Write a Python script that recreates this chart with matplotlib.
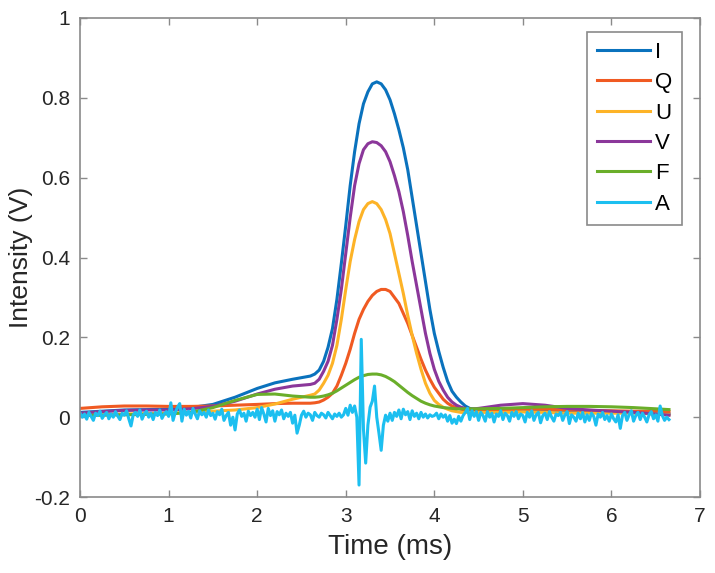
import numpy as np
import matplotlib
matplotlib.use("Agg")
import matplotlib.pyplot as plt

# time base for the smooth Stokes curves (ms)
t = [0, 0.25, 0.5, 0.75, 1.0, 1.25, 1.5, 1.75, 2.0, 2.2, 2.4,
     2.6, 2.65, 2.7, 2.75, 2.8, 2.85, 2.9, 2.95, 3.0, 3.05,
     3.1, 3.15, 3.2, 3.25, 3.3, 3.35, 3.4, 3.45, 3.5, 3.55,
     3.6, 3.65, 3.7, 3.75, 3.8, 3.85, 3.9, 3.95, 4.0, 4.05,
     4.1, 4.15, 4.2, 4.25, 4.3, 4.35, 4.4,
     4.5, 4.75, 5.0, 5.25, 5.5, 5.75, 6.0, 6.25, 6.5, 6.65]

I = [0.012, 0.015, 0.018, 0.019, 0.02, 0.024, 0.032, 0.05, 0.072, 0.086, 0.095,
     0.103, 0.108, 0.118, 0.14, 0.175, 0.222, 0.295, 0.385, 0.48, 0.58,
     0.665, 0.735, 0.785, 0.815, 0.835, 0.84, 0.835, 0.82, 0.795, 0.76,
     0.72, 0.675, 0.62, 0.55, 0.48, 0.41, 0.34, 0.27, 0.21, 0.165,
     0.125, 0.09, 0.065, 0.05, 0.038, 0.028, 0.022,
     0.018, 0.018, 0.02, 0.018, 0.015, 0.015, 0.013, 0.012, 0.01, 0.008]

Q = [0.022, 0.026, 0.028, 0.028, 0.027, 0.027, 0.028, 0.03, 0.032, 0.034, 0.035,
     0.035, 0.036, 0.038, 0.043, 0.05, 0.06, 0.078, 0.105, 0.135, 0.17,
     0.21, 0.245, 0.27, 0.29, 0.305, 0.315, 0.32, 0.32, 0.315, 0.3,
     0.285, 0.26, 0.235, 0.205, 0.175, 0.145, 0.118, 0.095, 0.075, 0.06,
     0.045, 0.035, 0.028, 0.024, 0.02, 0.018, 0.017,
     0.017, 0.018, 0.02, 0.02, 0.018, 0.017, 0.016, 0.015, 0.015, 0.014]

U = [0.005, 0.006, 0.008, 0.009, 0.01, 0.012, 0.015, 0.018, 0.024, 0.033, 0.045,
     0.055, 0.058, 0.068, 0.085, 0.105, 0.135, 0.18, 0.245, 0.32, 0.39,
     0.445, 0.49, 0.52, 0.535, 0.54, 0.535, 0.52, 0.495, 0.46, 0.41,
     0.36, 0.31, 0.255, 0.205, 0.16, 0.12, 0.085, 0.06, 0.042, 0.032,
     0.025, 0.02, 0.016, 0.014, 0.012, 0.012, 0.012,
     0.012, 0.012, 0.013, 0.012, 0.01, 0.01, 0.01, 0.01, 0.008, 0.006]

V = [0.01, 0.014, 0.017, 0.018, 0.018, 0.021, 0.027, 0.04, 0.058, 0.07, 0.078,
     0.082, 0.085, 0.095, 0.115, 0.14, 0.18, 0.245, 0.32, 0.41, 0.5,
     0.58, 0.635, 0.67, 0.685, 0.69, 0.688, 0.68, 0.665, 0.64, 0.605,
     0.565, 0.515, 0.455, 0.39, 0.33, 0.27, 0.21, 0.16, 0.12, 0.09,
     0.068, 0.05, 0.038, 0.03, 0.025, 0.022, 0.02,
     0.022, 0.03, 0.034, 0.03, 0.022, 0.018, 0.015, 0.012, 0.008, 0.005]

F = [0.004, 0.005, 0.006, 0.007, 0.008, 0.012, 0.024, 0.042, 0.057, 0.058, 0.053,
     0.05, 0.05, 0.051, 0.053, 0.056, 0.06, 0.066, 0.073, 0.08, 0.087,
     0.094, 0.1, 0.104, 0.107, 0.108, 0.108, 0.106, 0.102, 0.096, 0.089,
     0.08, 0.071, 0.062, 0.054, 0.047, 0.04, 0.035, 0.031, 0.028, 0.026,
     0.024, 0.023, 0.022, 0.021, 0.021, 0.021, 0.021,
     0.021, 0.022, 0.024, 0.026, 0.027, 0.027, 0.026, 0.024, 0.021, 0.019]

# A is sampled every 0.025 ms from 0 to 6.65 ms
A = [0.01, 0.0, 0.008, -0.005, 0.012, 0.002, -0.008, 0.01, 0.004, 0.015,
     -0.003, 0.006, 0.012, -0.004, 0.008, 0.0, 0.014, 0.003, -0.006, 0.01,
     0.005, 0.016, -0.004, -0.022, 0.006, 0.012, 0.002, 0.018, -0.005, 0.008,
     0.015, 0.0, 0.01, -0.006, 0.012, 0.004, 0.018, -0.003, 0.008, 0.014,
     0.002, 0.036, -0.008, 0.012, 0.025, 0.034, -0.01, 0.02, 0.005, 0.015,
     -0.002, 0.022, 0.008, -0.004, 0.016, 0.006, 0.012, 0.0, 0.018, 0.004,
     0.01, -0.005, 0.014, 0.006, 0.02, -0.008, 0.004, 0.012, -0.02, 0.0,
     -0.032, 0.008, 0.018, 0.002, 0.01, -0.01, 0.015, 0.004, 0.012, 0.0,
     0.02, -0.006, 0.024, 0.008, -0.012, 0.022, 0.004, 0.016, -0.01, 0.014,
     0.006, 0.018, -0.004, 0.01, 0.002, 0.012, -0.015, 0.005, -0.04, -0.02,
     0.005, 0.015, 0.0, 0.01, 0.006, -0.008, 0.012, 0.004, 0.0, 0.01,
     0.006, -0.002, 0.012, 0.004, -0.004, 0.008, 0.002, 0.01, 0.0, 0.006,
     0.022, 0.005, 0.03, 0.012, 0.028, 0.0, -0.17, 0.195, -0.03, -0.115,
     -0.02, 0.025, 0.04, 0.078, 0.0, -0.04, -0.083, -0.02, 0.005, -0.01,
     0.01, -0.008, 0.012, 0.002, 0.018, -0.004, 0.02, 0.006, 0.014, -0.006,
     0.016, 0.002, 0.01, -0.004, 0.012, 0.0, 0.008, -0.002, 0.006, 0.002,
     0.004, 0.01, -0.004, 0.008, 0.0, 0.006, -0.01, 0.004, -0.015, -0.005,
     -0.016, 0.002, -0.01, 0.004, 0.012, 0.022, -0.006, 0.016, 0.002, 0.014,
     -0.008, 0.012, 0.004, -0.01, 0.014, 0.0, 0.01, -0.012, 0.008, 0.002,
     0.016, -0.006, 0.01, 0.004, -0.01, 0.012, 0.002, 0.014, -0.004, 0.008,
     0.004, -0.012, 0.012, 0.0, 0.016, -0.008, 0.006, 0.012, -0.014, 0.004,
     0.01, -0.006, 0.014, 0.0, -0.01, 0.008, 0.004, 0.012, -0.008, 0.006,
     0.014, -0.016, 0.006, 0.0, -0.01, 0.01, -0.004, 0.012, -0.012, 0.006,
     -0.008, 0.01, 0.002, -0.02, 0.008, 0.0, 0.012, -0.006, 0.004, -0.01,
     0.008, -0.004, -0.012, 0.006, -0.028, 0.004, 0.012, -0.008, 0.006, 0.016,
     -0.01, 0.004, 0.012, -0.006, 0.01, 0.0, -0.012, 0.006, 0.014, -0.004,
     0.006, -0.01, 0.028, 0.004, -0.008, 0.0, -0.006]
t_a = np.linspace(0, 6.65, len(A))

names = ["I", "Q", "U", "V", "F", "A"]
colors = ["#0a72bd", "#f05a22", "#fdb327", "#8b379a", "#6aae2a", "#1cbff0"]

plt.rcParams['font.family'] = ['Liberation Sans', 'DejaVu Sans']

fig = plt.figure(figsize=(7.15, 5.73), dpi=100)
ax = fig.add_axes([0.112, 0.1326, 0.867, 0.836])

series = [I, Q, U, V, F]
for name, ys, c in zip(names[:5], series, colors[:5]):
    ax.plot(t, ys, color=c, lw=2.2, label=name)
ax.plot(t_a, A, color=colors[5], lw=2.2, label="A")

ax.set_xlim(0, 7)
ax.set_ylim(-0.2, 1)
ax.set_xticks(range(8))
ax.set_yticks([-0.2, 0, 0.2, 0.4, 0.6, 0.8, 1])
ax.set_yticklabels(["-0.2", "0", "0.2", "0.4", "0.6", "0.8", "1"])
ax.tick_params(direction="in", top=True, right=True, length=5, width=1,
               colors="#8a8a8a", labelcolor="#262626", labelsize=15, pad=7)
for s in ax.spines.values():
    s.set_color("#8a8a8a")
    s.set_linewidth(1.2)

ax.set_xlabel("Time (ms)", fontsize=20, color="#262626", labelpad=6)
ax.set_ylabel("Intensity (V)", fontsize=19, color="#262626", labelpad=1)

leg = ax.legend(loc="upper right", bbox_to_anchor=(0.971, 0.971), fontsize=16,
                handlelength=2.4, handletextpad=0.2, labelspacing=0.42,
                borderpad=0.45, fancybox=False, framealpha=1,
                borderaxespad=0)
leg.get_frame().set_edgecolor("#8a8a8a")
leg.get_frame().set_linewidth(1.2)

fig.savefig("out.png", dpi=100)
